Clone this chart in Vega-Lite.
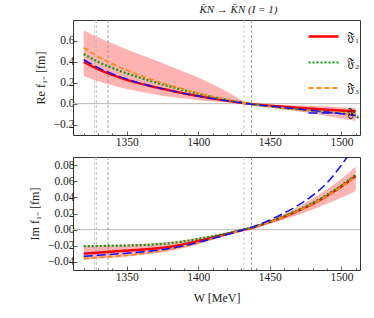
{
  "$schema": "https://vega.github.io/schema/vega-lite/v6.json",
  "padding": {"left": 27, "top": 4, "right": 5, "bottom": 5},
  "title": {"text": "K̄N → K̄N (I = 1)", "font": "Liberation Serif", "fontSize": 11, "fontStyle": "italic", "fontWeight": "normal", "offset": 4, "color": "#222", "anchor": "middle", "dx": 44},
  "config": {
    "font": "Liberation Serif",
    "view": {"stroke": "#333", "strokeWidth": 1},
    "axis": {"domain": false, "grid": false, "labelFont": "Liberation Serif", "labelFontSize": 11.5, "labelColor": "#222", "labelOverlap": false, "labelSeparation": 0, "labelFlush": false, "labelBound": false, "tickColor": "#333", "tickWidth": 0.8, "titleFont": "Liberation Serif", "titleFontSize": 12, "titleFontWeight": "normal", "titleColor": "#222"},
    "legend": {"labelFont": "Liberation Serif", "labelFontSize": 12, "labelColor": "#222"}
  },
  "datasets": {
    "curves": [
      {"W": 1320, "s": "𝔉₁", "re": 0.40, "im": -0.0297},
      {"W": 1330, "s": "𝔉₁", "re": 0.33, "im": -0.0285},
      {"W": 1340, "s": "𝔉₁", "re": 0.275, "im": -0.0272},
      {"W": 1350, "s": "𝔉₁", "re": 0.228, "im": -0.0260},
      {"W": 1360, "s": "𝔉₁", "re": 0.19, "im": -0.0248},
      {"W": 1370, "s": "𝔉₁", "re": 0.157, "im": -0.0233},
      {"W": 1380, "s": "𝔉₁", "re": 0.127, "im": -0.0213},
      {"W": 1390, "s": "𝔉₁", "re": 0.098, "im": -0.0180},
      {"W": 1400, "s": "𝔉₁", "re": 0.073, "im": -0.0140},
      {"W": 1410, "s": "𝔉₁", "re": 0.050, "im": -0.0098},
      {"W": 1420, "s": "𝔉₁", "re": 0.029, "im": -0.0055},
      {"W": 1430, "s": "𝔉₁", "re": 0.008, "im": -0.0010},
      {"W": 1440, "s": "𝔉₁", "re": -0.008, "im": 0.0035},
      {"W": 1450, "s": "𝔉₁", "re": -0.020, "im": 0.0095},
      {"W": 1460, "s": "𝔉₁", "re": -0.030, "im": 0.0160},
      {"W": 1470, "s": "𝔉₁", "re": -0.040, "im": 0.0235},
      {"W": 1480, "s": "𝔉₁", "re": -0.049, "im": 0.0320},
      {"W": 1490, "s": "𝔉₁", "re": -0.058, "im": 0.0420},
      {"W": 1500, "s": "𝔉₁", "re": -0.066, "im": 0.0535},
      {"W": 1510, "s": "𝔉₁", "re": -0.074, "im": 0.0665},
      {"W": 1320, "s": "𝔉₂", "re": 0.475, "im": -0.0205},
      {"W": 1330, "s": "𝔉₂", "re": 0.40, "im": -0.0203},
      {"W": 1340, "s": "𝔉₂", "re": 0.34, "im": -0.0200},
      {"W": 1350, "s": "𝔉₂", "re": 0.29, "im": -0.0197},
      {"W": 1360, "s": "𝔉₂", "re": 0.245, "im": -0.0192},
      {"W": 1370, "s": "𝔉₂", "re": 0.203, "im": -0.0183},
      {"W": 1380, "s": "𝔉₂", "re": 0.165, "im": -0.0168},
      {"W": 1390, "s": "𝔉₂", "re": 0.128, "im": -0.0145},
      {"W": 1400, "s": "𝔉₂", "re": 0.095, "im": -0.0115},
      {"W": 1410, "s": "𝔉₂", "re": 0.065, "im": -0.0082},
      {"W": 1420, "s": "𝔉₂", "re": 0.037, "im": -0.0045},
      {"W": 1430, "s": "𝔉₂", "re": 0.011, "im": -0.0005},
      {"W": 1440, "s": "𝔉₂", "re": -0.011, "im": 0.0040},
      {"W": 1450, "s": "𝔉₂", "re": -0.028, "im": 0.0100},
      {"W": 1460, "s": "𝔉₂", "re": -0.043, "im": 0.0168},
      {"W": 1470, "s": "𝔉₂", "re": -0.056, "im": 0.0245},
      {"W": 1480, "s": "𝔉₂", "re": -0.068, "im": 0.0332},
      {"W": 1490, "s": "𝔉₂", "re": -0.080, "im": 0.0432},
      {"W": 1500, "s": "𝔉₂", "re": -0.092, "im": 0.0548},
      {"W": 1510, "s": "𝔉₂", "re": -0.104, "im": 0.0680},
      {"W": 1320, "s": "𝔉₃", "re": 0.535, "im": -0.0355},
      {"W": 1330, "s": "𝔉₃", "re": 0.45, "im": -0.0345},
      {"W": 1340, "s": "𝔉₃", "re": 0.38, "im": -0.0333},
      {"W": 1350, "s": "𝔉₃", "re": 0.32, "im": -0.0318},
      {"W": 1360, "s": "𝔉₃", "re": 0.265, "im": -0.0298},
      {"W": 1370, "s": "𝔉₃", "re": 0.218, "im": -0.0274},
      {"W": 1380, "s": "𝔉₃", "re": 0.176, "im": -0.0245},
      {"W": 1390, "s": "𝔉₃", "re": 0.137, "im": -0.0208},
      {"W": 1400, "s": "𝔉₃", "re": 0.101, "im": -0.0163},
      {"W": 1410, "s": "𝔉₃", "re": 0.068, "im": -0.0113},
      {"W": 1420, "s": "𝔉₃", "re": 0.038, "im": -0.0062},
      {"W": 1430, "s": "𝔉₃", "re": 0.011, "im": -0.0012},
      {"W": 1440, "s": "𝔉₃", "re": -0.012, "im": 0.0035},
      {"W": 1450, "s": "𝔉₃", "re": -0.030, "im": 0.0092},
      {"W": 1460, "s": "𝔉₃", "re": -0.045, "im": 0.0158},
      {"W": 1470, "s": "𝔉₃", "re": -0.058, "im": 0.0232},
      {"W": 1480, "s": "𝔉₃", "re": -0.070, "im": 0.0318},
      {"W": 1490, "s": "𝔉₃", "re": -0.082, "im": 0.0418},
      {"W": 1500, "s": "𝔉₃", "re": -0.093, "im": 0.0532},
      {"W": 1510, "s": "𝔉₃", "re": -0.104, "im": 0.0660},
      {"W": 1320, "s": "𝔉₄", "re": 0.42, "im": -0.0330},
      {"W": 1330, "s": "𝔉₄", "re": 0.345, "im": -0.0318},
      {"W": 1340, "s": "𝔉₄", "re": 0.285, "im": -0.0305},
      {"W": 1350, "s": "𝔉₄", "re": 0.235, "im": -0.0292},
      {"W": 1360, "s": "𝔉₄", "re": 0.193, "im": -0.0277},
      {"W": 1370, "s": "𝔉₄", "re": 0.158, "im": -0.0258},
      {"W": 1380, "s": "𝔉₄", "re": 0.127, "im": -0.0233},
      {"W": 1390, "s": "𝔉₄", "re": 0.098, "im": -0.0200},
      {"W": 1400, "s": "𝔉₄", "re": 0.072, "im": -0.0158},
      {"W": 1410, "s": "𝔉₄", "re": 0.049, "im": -0.0110},
      {"W": 1420, "s": "𝔉₄", "re": 0.028, "im": -0.0060},
      {"W": 1430, "s": "𝔉₄", "re": 0.008, "im": -0.0010},
      {"W": 1440, "s": "𝔉₄", "re": -0.009, "im": 0.0045},
      {"W": 1450, "s": "𝔉₄", "re": -0.024, "im": 0.0120},
      {"W": 1460, "s": "𝔉₄", "re": -0.038, "im": 0.0205},
      {"W": 1470, "s": "𝔉₄", "re": -0.052, "im": 0.0305},
      {"W": 1480, "s": "𝔉₄", "re": -0.066, "im": 0.0425},
      {"W": 1490, "s": "𝔉₄", "re": -0.081, "im": 0.0580},
      {"W": 1500, "s": "𝔉₄", "re": -0.097, "im": 0.0800},
      {"W": 1510, "s": "𝔉₄", "re": -0.113, "im": 0.1050}
    ],
    "band": [
      {"W": 1320, "reHi": 0.70, "reLo": 0.265, "imHi": -0.0195, "imLo": -0.0375},
      {"W": 1330, "reHi": 0.635, "reLo": 0.215, "imHi": -0.0192, "imLo": -0.0362},
      {"W": 1340, "reHi": 0.575, "reLo": 0.175, "imHi": -0.0188, "imLo": -0.0348},
      {"W": 1350, "reHi": 0.52, "reLo": 0.14, "imHi": -0.0183, "imLo": -0.0333},
      {"W": 1360, "reHi": 0.465, "reLo": 0.112, "imHi": -0.0176, "imLo": -0.0315},
      {"W": 1370, "reHi": 0.415, "reLo": 0.088, "imHi": -0.0166, "imLo": -0.0293},
      {"W": 1380, "reHi": 0.36, "reLo": 0.067, "imHi": -0.0150, "imLo": -0.0265},
      {"W": 1390, "reHi": 0.305, "reLo": 0.049, "imHi": -0.0128, "imLo": -0.0228},
      {"W": 1400, "reHi": 0.25, "reLo": 0.033, "imHi": -0.0100, "imLo": -0.0180},
      {"W": 1410, "reHi": 0.185, "reLo": 0.020, "imHi": -0.0068, "imLo": -0.0125},
      {"W": 1420, "reHi": 0.115, "reLo": 0.010, "imHi": -0.0035, "imLo": -0.0068},
      {"W": 1430, "reHi": 0.035, "reLo": 0.002, "imHi": -0.0003, "imLo": -0.0013},
      {"W": 1440, "reHi": -0.003, "reLo": -0.015, "imHi": 0.0045, "imLo": 0.0028},
      {"W": 1450, "reHi": -0.008, "reLo": -0.035, "imHi": 0.0115, "imLo": 0.0075},
      {"W": 1460, "reHi": -0.013, "reLo": -0.055, "imHi": 0.0195, "imLo": 0.0128},
      {"W": 1470, "reHi": -0.018, "reLo": -0.075, "imHi": 0.0285, "imLo": 0.0185},
      {"W": 1480, "reHi": -0.023, "reLo": -0.095, "imHi": 0.0385, "imLo": 0.0250},
      {"W": 1490, "reHi": -0.028, "reLo": -0.118, "imHi": 0.0500, "imLo": 0.0320},
      {"W": 1500, "reHi": -0.034, "reLo": -0.142, "imHi": 0.0630, "imLo": 0.0395},
      {"W": 1510, "reHi": -0.040, "reLo": -0.165, "imHi": 0.0780, "imLo": 0.0480}
    ],
    "thrLight": [{"W": 1327.6}, {"W": 1328.9}, {"W": 1431.95}],
    "thrDark": [{"W": 1337.0}, {"W": 1437.2}],
    "zero": [{"v": 0}]
  },
  "spacing": 6,
  "resolve": {"scale": {"color": "independent", "strokeDash": "independent", "strokeWidth": "independent"}, "legend": {"color": "independent", "strokeDash": "independent", "strokeWidth": "independent"}},
  "vconcat": [
    {
      "width": 287,
      "height": 115,
      "encoding": {
        "x": {"field": "W", "type": "quantitative", "scale": {"domain": [1312.5, 1513]}, "axis": {"values": [1320, 1330, 1340, 1350, 1360, 1370, 1380, 1390, 1400, 1410, 1420, 1430, 1440, 1450, 1460, 1470, 1480, 1490, 1500, 1510], "format": "d", "labelOverlap": false, "labelPadding": 5, "labelExpr": "datum.value % 50 === 0 ? datum.label : ''", "tickSize": {"condition": {"test": "datum.value % 50 === 0", "value": -4}, "value": -2}, "title": null}}
      },
      "layer": [
        {
          "data": {"name": "band"},
          "mark": {"type": "area", "color": "#ffb3b3", "interpolate": "monotone"},
          "encoding": {
            "y": {"field": "reHi", "type": "quantitative", "scale": {"domain": [-0.202, 0.735]}, "axis": {"values": [-0.2, 0, 0.2, 0.4, 0.6], "format": ".1f", "labelOverlap": false, "labelSeparation": 0, "labelPadding": 3, "tickSize": -4, "title": "Re f₁₋ [fm]", "titlePadding": 6}},
            "y2": {"field": "reLo"}
          }
        },
        {
          "data": {"name": "zero"},
          "mark": {"type": "rule", "color": "#b8b8b8", "strokeWidth": 1},
          "encoding": {"x": null, "y": {"field": "v", "type": "quantitative", "axis": {"values": [-0.2, 0, 0.2, 0.4, 0.6], "format": ".1f", "labelOverlap": false, "labelSeparation": 0, "labelPadding": 3, "tickSize": -4, "title": "Re f₁₋ [fm]", "titlePadding": 6}}}
        },
        {
          "data": {"name": "thrLight"},
          "mark": {"type": "rule", "color": "#bbbbbb", "strokeDash": [3, 2], "strokeWidth": 0.8},
          "encoding": {}
        },
        {
          "data": {"name": "thrDark"},
          "mark": {"type": "rule", "color": "#888888", "strokeDash": [3, 2], "strokeWidth": 0.8},
          "encoding": {}
        },
        {
          "data": {"name": "curves"},
          "mark": {"type": "line", "interpolate": "monotone", "clip": true},
          "encoding": {
            "y": {"field": "re", "type": "quantitative", "axis": {"values": [-0.2, 0, 0.2, 0.4, 0.6], "format": ".1f", "labelOverlap": false, "labelSeparation": 0, "labelPadding": 3, "tickSize": -4, "title": "Re f₁₋ [fm]", "titlePadding": 6}},
            "color": {"field": "s", "type": "nominal", "scale": {"domain": ["𝔉₁", "𝔉₂", "𝔉₃", "𝔉₄"], "range": ["#ff0000", "#0a9a0a", "#ff8a1a", "#1010ff"]}, "legend": {"title": null, "orient": "top-right", "offset": 0, "symbolType": "stroke", "symbolSize": 900, "rowPadding": 3, "labelOffset": 7}},
            "strokeDash": {"field": "s", "type": "nominal", "scale": {"domain": ["𝔉₁", "𝔉₂", "𝔉₃", "𝔉₄"], "range": [[1, 0], [2, 2], [5, 3], [9, 4]]}, "legend": {"title": null, "orient": "top-right", "offset": 0, "symbolType": "stroke", "symbolSize": 900, "rowPadding": 3, "labelOffset": 7}},
            "strokeWidth": {"field": "s", "type": "nominal", "scale": {"domain": ["𝔉₁", "𝔉₂", "𝔉₃", "𝔉₄"], "range": [2.5, 1.5, 1.5, 1.8]}, "legend": {"title": null, "orient": "top-right", "offset": 0, "symbolType": "stroke", "symbolSize": 900, "rowPadding": 3, "labelOffset": 7}}
          }
        }
      ]
    },
    {
      "width": 287,
      "height": 113,
      "encoding": {
        "x": {"field": "W", "type": "quantitative", "scale": {"domain": [1312.5, 1513]}, "axis": {"values": [1320, 1330, 1340, 1350, 1360, 1370, 1380, 1390, 1400, 1410, 1420, 1430, 1440, 1450, 1460, 1470, 1480, 1490, 1500, 1510], "format": "d", "labelOverlap": false, "labelPadding": 5, "labelExpr": "datum.value % 50 === 0 ? datum.label : ''", "tickSize": {"condition": {"test": "datum.value % 50 === 0", "value": -4}, "value": -2}, "title": "W [MeV]", "titlePadding": 8}}
      },
      "layer": [
        {
          "data": {"name": "band"},
          "mark": {"type": "area", "color": "#ffb3b3", "interpolate": "monotone"},
          "encoding": {
            "y": {"field": "imHi", "type": "quantitative", "scale": {"domain": [-0.0417, 0.0856]}, "axis": {"values": [-0.04, -0.02, 0, 0.02, 0.04, 0.06, 0.08], "format": ".2f", "labelOverlap": false, "labelSeparation": 0, "labelPadding": 3, "tickSize": -4, "title": "Im f₁₋ [fm]", "titlePadding": 6}},
            "y2": {"field": "imLo"}
          }
        },
        {
          "data": {"name": "zero"},
          "mark": {"type": "rule", "color": "#b8b8b8", "strokeWidth": 1},
          "encoding": {"x": null, "y": {"field": "v", "type": "quantitative", "axis": {"values": [-0.04, -0.02, 0, 0.02, 0.04, 0.06, 0.08], "format": ".2f", "labelOverlap": false, "labelSeparation": 0, "labelPadding": 3, "tickSize": -4, "title": "Im f₁₋ [fm]", "titlePadding": 6}}}
        },
        {
          "data": {"name": "thrLight"},
          "mark": {"type": "rule", "color": "#bbbbbb", "strokeDash": [3, 2], "strokeWidth": 0.8},
          "encoding": {}
        },
        {
          "data": {"name": "thrDark"},
          "mark": {"type": "rule", "color": "#888888", "strokeDash": [3, 2], "strokeWidth": 0.8},
          "encoding": {}
        },
        {
          "data": {"name": "curves"},
          "mark": {"type": "line", "interpolate": "monotone", "clip": true},
          "encoding": {
            "y": {"field": "im", "type": "quantitative", "axis": {"values": [-0.04, -0.02, 0, 0.02, 0.04, 0.06, 0.08], "format": ".2f", "labelOverlap": false, "labelSeparation": 0, "labelPadding": 3, "tickSize": -4, "title": "Im f₁₋ [fm]", "titlePadding": 6}},
            "color": {"field": "s", "type": "nominal", "scale": {"domain": ["𝔉₁", "𝔉₂", "𝔉₃", "𝔉₄"], "range": ["#ff0000", "#0a9a0a", "#ff8a1a", "#1010ff"]}, "legend": null},
            "strokeDash": {"field": "s", "type": "nominal", "scale": {"domain": ["𝔉₁", "𝔉₂", "𝔉₃", "𝔉₄"], "range": [[1, 0], [2, 2], [5, 3], [9, 4]]}, "legend": null},
            "strokeWidth": {"field": "s", "type": "nominal", "scale": {"domain": ["𝔉₁", "𝔉₂", "𝔉₃", "𝔉₄"], "range": [2.5, 1.5, 1.5, 1.8]}, "legend": null}
          }
        }
      ]
    }
  ]
}
